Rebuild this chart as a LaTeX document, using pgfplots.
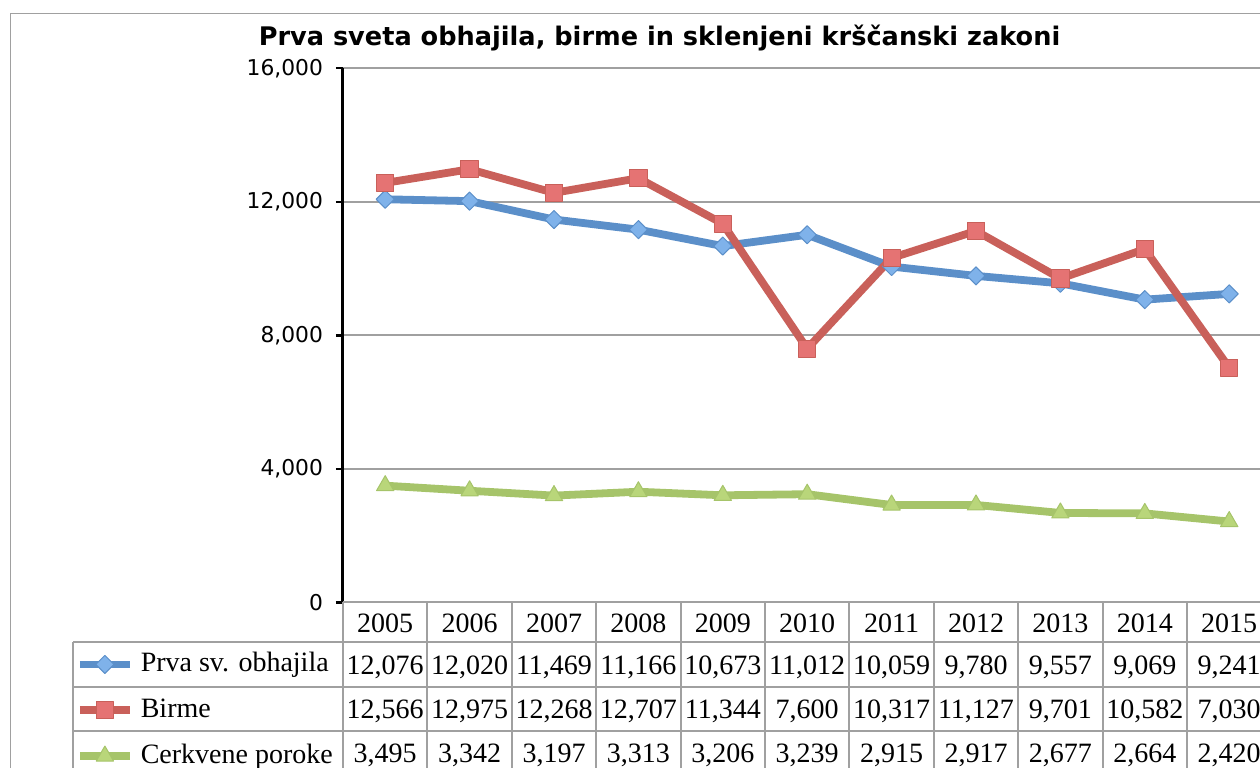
\documentclass[border=0pt]{standalone}
\usepackage{fontspec}
\setmainfont{DejaVu Sans}
\newfontfamily\tabfont{Liberation Serif}
\usepackage{pgfplots}
\usepackage{pgfplotstable}
\pgfplotsset{compat=1.18}
\definecolor{cblue}{HTML}{5B8FC9}
\definecolor{cbluef}{HTML}{7FB2EA}
\definecolor{cred}{HTML}{C9605A}
\definecolor{credf}{HTML}{E57373}
\definecolor{cgreen}{HTML}{A6C46A}
\definecolor{cgreenf}{HTML}{B9D67A}
\definecolor{gridgray}{HTML}{A0A0A0}

\pgfplotstableread{
x year prva birme poroke
0 2005 12076 12566 3495
1 2006 12020 12975 3342
2 2007 11469 12268 3197
3 2008 11166 12707 3313
4 2009 10673 11344 3206
5 2010 11012 7600 3239
6 2011 10059 10317 2915
7 2012 9780 11127 2917
8 2013 9557 9701 2677
9 2014 9069 10582 2664
10 2015 9241 7030 2420
}\datatable

\begin{document}
\begin{tikzpicture}[x=0.5pt,y=0.5pt]
\begin{scope}
\clip (0,0) rectangle (1260,767);
\draw[gridgray, line width=0.8pt] (10.5,753.5) rectangle (1400,-100);
\node[font=\fontsize{12.8}{15}\selectfont\bfseries] at (659.5,728.5) {Prva sveta obhajila, birme in sklenjeni krščanski zakoni};
\begin{axis}[
  at={(171.5pt,82.35pt)}, anchor=south west,
  scale only axis, width=464.2pt, height=267pt,
  xmin=-0.5, xmax=10.5, ymin=0, ymax=16000,
  axis x line=none, axis y line*=left,
  y axis line style={black, line width=1.5pt},
  ytick={0,4000,8000,12000,16000},
  scaled y ticks=false,
  yticklabel style={/pgf/number format/.cd, fixed, 1000 sep={,}},
  /pgf/number format/assume math mode=true,
  ticklabel style={font=\fontsize{10.9}{12}\selectfont, xshift=-3pt},
  tick align=outside, major tick length=3.5pt,
  ytick style={black, line width=1.2pt},
  ymajorgrids, grid style={gridgray, line width=0.9pt},
  clip=false,
  legend style={at={(-0.2876,-0.092)}, anchor=north west, draw=none, fill=none,
    inner sep=0pt, outer sep=0pt, row sep=9.9pt, column sep=3.5pt,
    font=\tabfont\fontsize{14}{16}\selectfont,
    nodes={inner sep=0pt, text height=10pt, text depth=3pt}},
  legend cell align=left,
  legend image code/.code={\draw[mark repeat=2,mark phase=2,#1] plot coordinates {(0pt,0pt) (12.5pt,0pt) (25pt,0pt)};},
]
\addplot[cblue, line width=3.9pt, line join=round, mark=square*, mark size=3.2pt,
  mark options={rotate=45, fill=cbluef, draw=cblue, line width=0.5pt}] table[x=x,y=prva]{\datatable};
\addlegendentry{Prva sv. obhajila}
\addplot[cred, line width=3.9pt, line join=round, mark=square*, mark size=4.3pt,
  mark options={fill=credf, draw=cred, line width=0.5pt}] table[x=x,y=birme]{\datatable};
\addlegendentry{Birme}
\addplot[cgreen, line width=3.9pt, line join=round, mark=triangle*, mark size=5pt,
  mark options={fill=cgreenf, draw=cgreen, line width=0.5pt}] table[x=x,y=poroke]{\datatable};
\addlegendentry{Cerkvene poroke}
\end{axis}
% data table grid
\begin{scope}[gridgray, line width=1pt]
\draw (343,164.7) -- (1400,164.7);
\draw (73.3,125.3) -- (1400,125.3);
\draw (73.3,80.3) -- (1400,80.3);
\draw (73.3,36.5) -- (1400,36.5);
\draw (73.3,125.3) -- (73.3,-20);
\foreach \k in {0,...,11} { \draw ({343+84.4*\k},164.7) -- ({343+84.4*\k},-20); }
\end{scope}
\begin{scope}[font=\tabfont\fontsize{14}{16}\selectfont, every node/.style={inner sep=0pt, text height=10pt, text depth=0pt}]
\foreach \y [count=\i from 0] in {2005,2006,2007,2008,2009,2010,2011,2012,2013,2014,2015}
  { \node at ({385.2+84.4*\i},144) {\y}; }
\foreach \v [count=\i from 0] in {{12,076},{12,020},{11,469},{11,166},{10,673},{11,012},{10,059},{9,780},{9,557},{9,069},{9,241}}
  { \node at ({385.2+84.4*\i},103) {\v}; }
\foreach \v [count=\i from 0] in {{12,566},{12,975},{12,268},{12,707},{11,344},{7,600},{10,317},{11,127},{9,701},{10,582},{7,030}}
  { \node at ({385.2+84.4*\i},58.5) {\v}; }
\foreach \v [count=\i from 0] in {{3,495},{3,342},{3,197},{3,313},{3,206},{3,239},{2,915},{2,917},{2,677},{2,664},{2,420}}
  { \node at ({385.2+84.4*\i},15) {\v}; }
\end{scope}
\end{scope}
\pgfresetboundingbox
\path[use as bounding box] (0,0) rectangle (1260,767);
\end{tikzpicture}
\end{document}
